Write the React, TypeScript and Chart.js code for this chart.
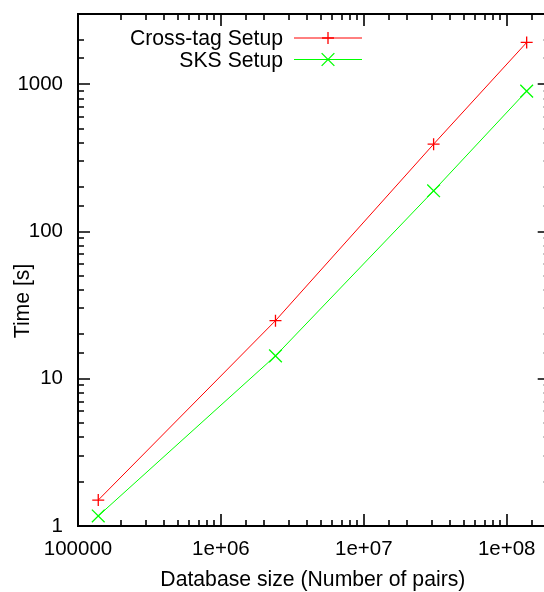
import React, { useEffect, useRef } from "react";
import Chart from "chart.js/auto";

// ---- data ----
const seriesLabels = ["Cross-tag Setup", "SKS Setup"];
const crossTagSizes = [1.386e5, 2.41e6, 3.08e7, 1.38e8];
const crossTagTimes = [1.5, 24.8, 392, 1922];
const sksSizes = [1.386e5, 2.41e6, 3.08e7, 1.38e8];
const sksTimes = [1.17, 14.3, 189, 898];
const seriesColors = ["#ff0000", "#00ff00"];
const seriesMarkers = ["cross", "crossRot"];

const xTickValues = [1e5, 1e6, 1e7, 1e8];
const xTickLabels = ["100000", "1e+06", "1e+07", "1e+08"];
const yTickValues = [1, 10, 100, 1000];
const yTickLabels = ["1", "10", "100", "1000"];

const xTitle = "Database size (Number of pairs)";
const yTitle = "Time [s]";

const X_MIN = 1e5;
const X_MAX = 2e8;
const Y_MIN = 1;
const Y_MAX = 3000;

const FONT_FAMILY = '"Liberation Sans", Arial, Helvetica, sans-serif';
const TICK_FONT_SIZE = 20.5;
const TEXT_FONT_SIZE = 21.2;

function labelFor(values: number[], labels: string[], v: number): string {
  for (let i = 0; i < values.length; i++) {
    if (Math.abs(v - values[i]) / values[i] < 1e-9) return labels[i];
  }
  return "";
}

function isDecade(v: number): boolean {
  const l = Math.log10(v);
  return Math.abs(l - Math.round(l)) < 1e-9;
}

function drawMarker(ctx: CanvasRenderingContext2D, style: string, x: number, y: number, r: number) {
  ctx.beginPath();
  if (style === "cross") {
    ctx.moveTo(x - r, y);
    ctx.lineTo(x + r, y);
    ctx.moveTo(x, y - r);
    ctx.lineTo(x, y + r);
  } else {
    const o = r * Math.SQRT1_2;
    ctx.moveTo(x - o, y - o);
    ctx.lineTo(x + o, y + o);
    ctx.moveTo(x - o, y + o);
    ctx.lineTo(x + o, y - o);
  }
  ctx.stroke();
}

const framePlugin = {
  id: "gnuplotFrame",
  afterDatasetsDraw(chart: any) {
    const ctx: CanvasRenderingContext2D = chart.ctx;
    const { left, right, top, bottom } = chart.chartArea;
    const xs = chart.scales.x;
    const ys = chart.scales.y;
    ctx.save();
    ctx.strokeStyle = "#000";
    // ticks, pointing inward, mirrored on all four sides
    ctx.lineWidth = 1.6;
    ctx.beginPath();
    for (const t of xs.ticks) {
      const v = t.value;
      if (v < X_MIN || v > X_MAX) continue;
      const px = Math.round(xs.getPixelForValue(v));
      const len = isDecade(v) ? 12 : 6;
      ctx.moveTo(px, bottom);
      ctx.lineTo(px, bottom - len);
      ctx.moveTo(px, top);
      ctx.lineTo(px, top + len);
    }
    for (const t of ys.ticks) {
      const v = t.value;
      if (v < Y_MIN || v > Y_MAX) continue;
      const py = Math.round(ys.getPixelForValue(v));
      const len = isDecade(v) ? 12 : 6;
      ctx.moveTo(left, py);
      ctx.lineTo(left + len, py);
      ctx.moveTo(right, py);
      ctx.lineTo(right - len, py);
    }
    ctx.stroke();
    // border
    ctx.lineWidth = 2;
    ctx.strokeRect(left, top, right - left, bottom - top);

    // legend (text right-aligned, sample on the right)
    ctx.font = `${TEXT_FONT_SIZE}px ${FONT_FAMILY}`;
    ctx.textAlign = "right";
    ctx.textBaseline = "alphabetic";
    const textRight = 283;
    const lineStart = 294;
    const lineEnd = 362;
    const rowY0 = 37.5;
    const rowGap = 21.5;
    chart.data.datasets.forEach((ds: any, i: number) => {
      const y = rowY0 + i * rowGap;
      ctx.fillStyle = "#000";
      ctx.fillText(ds.label, textRight, y + 7.5);
      ctx.strokeStyle = ds.borderColor;
      ctx.lineWidth = 1;
      ctx.beginPath();
      ctx.moveTo(lineStart, y + 0.5);
      ctx.lineTo(lineEnd, y + 0.5);
      ctx.stroke();
      ctx.lineWidth = 1.3;
      drawMarker(ctx, ds.pointStyle, (lineStart + lineEnd) / 2, y + 0.5, ds.pointRadius);
    });

    // axis titles
    ctx.fillStyle = "#000";
    ctx.textAlign = "center";
    ctx.textBaseline = "alphabetic";
    ctx.fillText(xTitle, (left + right) / 2 - 1, 585.5);
    ctx.save();
    ctx.translate(28.5, 301);
    ctx.rotate(-Math.PI / 2);
    ctx.fillText(yTitle, 0, 0);
    ctx.restore();
    ctx.restore();
  },
};

export default function App() {
  const ref = useRef<HTMLCanvasElement>(null);
  useEffect(() => {
    const canvas = ref.current!;
    const mk = (i: number, xs: number[], ys: number[]) => ({
      label: seriesLabels[i],
      data: xs.map((x, k) => ({ x, y: ys[k] })),
      borderColor: seriesColors[i],
      backgroundColor: seriesColors[i],
      borderWidth: 1,
      pointStyle: seriesMarkers[i],
      pointRadius: i === 0 ? 6 : 9,
      pointBorderWidth: 1.3,
      pointHoverRadius: 6,
      fill: false,
      tension: 0,
    });
    const chart = new Chart(canvas, {
      type: "line",
      data: {
        datasets: [mk(0, crossTagSizes, crossTagTimes), mk(1, sksSizes, sksTimes)],
      },
      options: {
        responsive: false,
        animation: false,
        devicePixelRatio: 1,
        layout: { padding: { top: 14, right: 10, left: 0, bottom: 0 } },
        plugins: {
          legend: { display: false },
          tooltip: { enabled: false },
        },
        scales: {
          x: {
            type: "logarithmic",
            min: X_MIN,
            max: X_MAX,
            grid: { display: false, drawTicks: false },
            border: { display: false },
            ticks: {
              autoSkip: false,
              maxRotation: 0,
              padding: 11,
              color: "#000",
              font: { family: FONT_FAMILY, size: TICK_FONT_SIZE },
              callback: (v: any) => labelFor(xTickValues, xTickLabels, Number(v)),
            },
            afterFit: (s: any) => {
              s.height = 66;
              s.paddingLeft = 0;
              s.paddingRight = 0;
            },
          },
          y: {
            type: "logarithmic",
            min: Y_MIN,
            max: Y_MAX,
            grid: { display: false, drawTicks: false },
            border: { display: false },
            ticks: {
              autoSkip: false,
              padding: 15,
              color: "#000",
              font: { family: FONT_FAMILY, size: TICK_FONT_SIZE },
              callback: (v: any) => labelFor(yTickValues, yTickLabels, Number(v)),
            },
            afterFit: (s: any) => {
              s.width = 78;
              s.paddingTop = 0;
              s.paddingBottom = 0;
            },
          },
        },
      } as any,
      plugins: [framePlugin],
    });
    return () => chart.destroy();
  }, []);

  return (
    <div
      style={{
        position: "fixed",
        left: 0,
        top: 0,
        width: 544,
        height: 592,
        overflow: "hidden",
        background: "#fff",
      }}
    >
      <canvas ref={ref} width={560} height={592} style={{ display: "block" }} />
    </div>
  );
}
